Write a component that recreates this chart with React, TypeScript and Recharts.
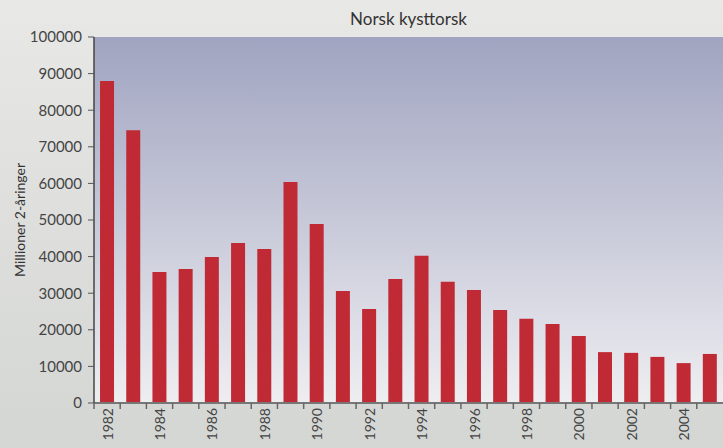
import { BarChart, Bar, XAxis, YAxis, CartesianGrid } from "recharts"

const years = [
  1982, 1983, 1984, 1985, 1986, 1987, 1988, 1989, 1990, 1991, 1992, 1993,
  1994, 1995, 1996, 1997, 1998, 1999, 2000, 2001, 2002, 2003, 2004, 2005,
]
const recruits = [
  88000, 74500, 35800, 36600, 39900, 43700, 42100, 60400, 48900, 30600, 25700, 33900,
  40200, 33100, 30900, 25400, 23000, 21600, 18300, 13900, 13700, 12600, 10900, 13400,
]
const yTicks = [0, 10000, 20000, 30000, 40000, 50000, 60000, 70000, 80000, 90000, 100000]

const data = years.map((y, i) => ({ year: y, value: recruits[i] }))

const W = 723
const H = 448
const LEFT = 94
const AXIS_Y = 403
const BAND = (W - LEFT) / years.length
const FONT = "Lato, 'DejaVu Sans', sans-serif"

// tick line sits between categories, label only on even years
const YearTick = (props: any) => {
  const { x, payload } = props
  const yr = Number(payload.value)
  const bx = x - BAND / 2
  const ty = AXIS_Y + 5
  return (
    <g>
      <line x1={bx} y1={AXIS_Y} x2={bx} y2={AXIS_Y + 6} stroke="#666" strokeWidth={1.5} />
      {yr % 2 === 0 && (
        <text
          x={x}
          y={ty}
          transform={`rotate(-90 ${x} ${ty})`}
          textAnchor="end"
          dominantBaseline="central"
          fontSize={14}
          fill="#444"
          fontFamily={FONT}
        >
          {yr}
        </text>
      )}
    </g>
  )
}

export default function App() {
  return (
    <div
      style={{
        position: "fixed",
        left: 0,
        top: 0,
        width: W,
        height: H,
        background: "linear-gradient(#e8e8e6, #d4d6d4)",
        fontFamily: FONT,
      }}
    >
      <div
        style={{
          position: "absolute",
          top: 8,
          left: LEFT,
          width: W - LEFT,
          textAlign: "center",
          fontSize: 17,
          color: "#333",
        }}
      >
        Norsk kysttorsk
      </div>
      <div
        style={{
          position: "absolute",
          left: 19,
          top: 220,
          transform: "translate(-50%, -50%) rotate(-90deg)",
          whiteSpace: "nowrap",
          fontSize: 14,
          color: "#333",
        }}
      >
        Millioner 2-åringer
      </div>
      <BarChart
        width={W}
        height={H}
        data={data}
        margin={{ top: 37, right: 0, left: 0, bottom: 0 }}
        barCategoryGap="23%"
      >
        <defs>
          <linearGradient id="plotBg" x1="0" y1="0" x2="0" y2="1">
            <stop offset="0%" stopColor="#a0a4c0" />
            <stop offset="100%" stopColor="#eeeef1" />
          </linearGradient>
        </defs>
        <CartesianGrid horizontal={false} vertical={false} fill="url(#plotBg)" fillOpacity={1} />
        <XAxis
          dataKey="year"
          interval={0}
          height={45}
          tickLine={false}
          axisLine={{ stroke: "#777", strokeWidth: 2 }}
          tick={<YearTick />}
        />
        <YAxis
          width={LEFT}
          domain={[0, 100000]}
          ticks={yTicks}
          interval={0}
          tickSize={6}
          tickMargin={6}
          tickLine={{ stroke: "#555" }}
          axisLine={{ stroke: "#444", strokeWidth: 1.5 }}
          tick={{ fontSize: 15, fill: "#444", fontFamily: FONT }}
        />
        <Bar dataKey="value" fill="#c02a35" isAnimationActive={false} />
      </BarChart>
    </div>
  )
}
